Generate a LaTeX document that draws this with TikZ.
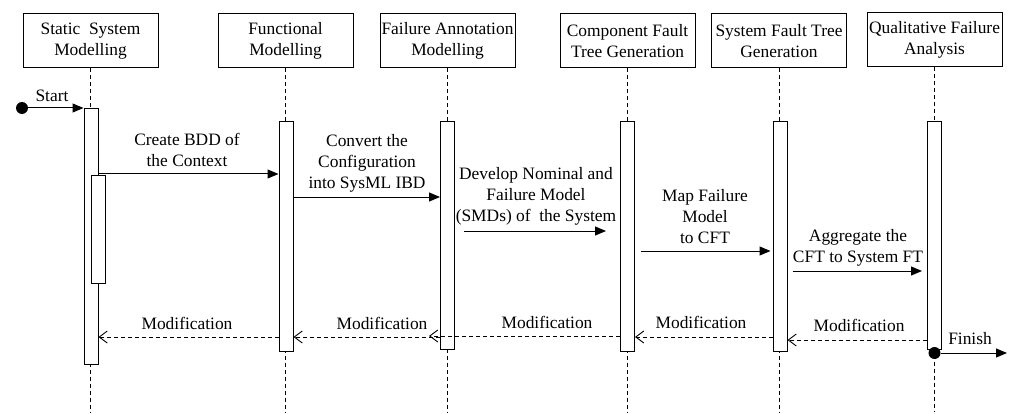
\documentclass[tikz,border=0pt]{standalone}
\usepackage{fontspec}
\setmainfont{Liberation Serif}
\usetikzlibrary{arrows.meta}
\begin{document}
\begin{tikzpicture}[x=1pt,y=-1pt,
  every node/.style={font=\fontsize{17.4}{21}\selectfont},
  head/.style={draw, line width=1pt, minimum width=135pt, minimum height=54pt, align=center, inner sep=0pt},
  bar/.style={draw, fill=white, line width=1pt, minimum width=14pt, anchor=north, inner sep=0pt},
  life/.style={dash pattern=on 4pt off 3pt, line width=0.9pt},
  msg/.style={line width=1pt, -{Triangle[length=11pt,width=9pt]}},
  ret/.style={line width=0.9pt, dash pattern=on 4pt off 3pt, -{Straight Barb[length=8pt,width=12pt]}},
  lbl/.style={align=center, inner sep=0pt},
  dot/.style={circle, fill=black, minimum size=12pt, inner sep=0pt},
]
\useasboundingbox (0,0) rectangle (1011,414);

% lifeline heads
\node[head] (h1) at (90.5,41) {Static\ \ System\\Modelling};
\node[head] (h2) at (285.5,41) {Functional\\Modelling};
\node[head] (h3) at (447.5,41) {Failure Annotation\\Modelling};
\node[head] (h4) at (627.5,41) {Component Fault\\Tree Generation};
\node[head] (h5) at (779,41) {System Fault Tree\\Generation};
\node[head] (h6) at (934.5,40) {Qualitative Failure\\Analysis};

% dashed lifelines
\foreach \h in {h1,h2,h3,h4,h5,h6}
  \draw[life] (\h.south) -- (\h.south |- 0,412);

% activation bars
\node[bar, minimum height=256pt] (b1) at (91,108) {};
\node[bar, minimum height=108pt] (b1n) at (98,175) {};
\node[bar, minimum height=230pt] (b2) at (286,121) {};
\node[bar, minimum height=228pt] (b3) at (447.5,121) {};
\node[bar, minimum height=230pt] (b4) at (627.5,121) {};
\node[bar, minimum height=230pt] (b5) at (780,121) {};
\node[bar, minimum height=228pt] (b6) at (934.5,121) {};

% start
\node[dot] (start) at (22,108) {};
\draw[msg] (start) -- (b1.north west);
\node[lbl] (lstart) at (52,96) {Start};

% forward messages
\draw[msg] (b1.east |- 0,174) -- (b2.west |- 0,174);
\node[lbl] (l1) at (187,150) {Create BDD of\\the Context};

\draw[msg] (b2.east |- 0,197) -- (b3.west |- 0,197);
\node[lbl] (l2) at (367,163) {Convert the\\Configuration\\into SysML IBD};

\draw[msg] ([xshift=9pt]b3.east |- 0,231) -- ([xshift=-14pt]b4.west |- 0,231);
\node[lbl] (l3) at (536,196) {Develop Nominal and\\Failure Model\\(SMDs) of\ \ the System};

\draw[msg] ([xshift=6pt]b4.east |- 0,251) -- ([xshift=-2pt]b5.west |- 0,251);
\node[lbl] (l4) at (705,217) {Map Failure\\Model\\to CFT};

\draw[msg] ([xshift=5pt]b5.east |- 0,271) -- ([xshift=-5pt]b6.west |- 0,271);
\node[lbl] (l5) at (858,247.5) {Aggregate the\\CFT to System FT};

% return messages
\draw[ret] (b6.west |- 0,340) -- (b5.east |- 0,340);
\node[lbl] (m5) at (859,325) {Modification};
\draw[ret] (b5.west |- 0,337) -- (b4.east |- 0,337);
\node[lbl] (m4) at (701,322) {Modification};
\draw[ret] (b4.west |- 0,336) -- ([xshift=-26pt]b3.east |- 0,336);
\node[lbl] (m3) at (547,322) {Modification};
\draw[ret] (b3.west |- 0,337) -- (b2.east |- 0,337);
\node[lbl] (m2) at (382,323) {Modification};
\draw[ret] (b2.west |- 0,337) -- (b1.east |- 0,337);
\node[lbl] (m1) at (187,323) {Modification};

% finish
\node[dot] (finish) at (934.5,353) {};
\coordinate (end) at (1007,353);
\draw[msg] (finish) -- (end);
\node[lbl] (lfinish) at (970,339) {Finish};
\end{tikzpicture}
\end{document}
